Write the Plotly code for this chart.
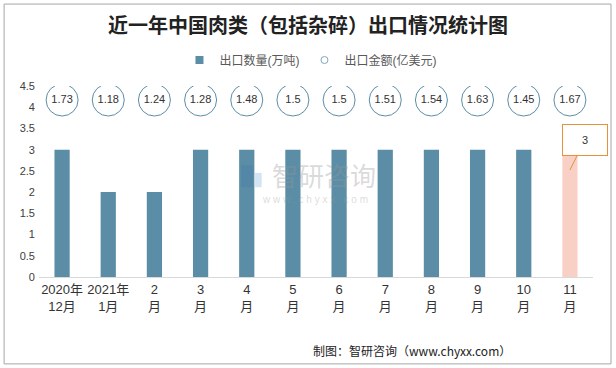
import plotly.graph_objects as go

categories = ["2020年12月", "2021年1月", "2月", "3月", "4月", "5月", "6月", "7月", "8月", "9月", "10月", "11月"]
tick_labels = ["2020年<br>12月", "2021年<br>1月", "2<br>月", "3<br>月", "4<br>月", "5<br>月",
               "6<br>月", "7<br>月", "8<br>月", "9<br>月", "10<br>月", "11<br>月"]
export_volume = [3, 2, 2, 3, 3, 3, 3, 3, 3, 3, 3, 3]          # 万吨
export_value = [1.73, 1.18, 1.24, 1.28, 1.48, 1.5, 1.5, 1.51, 1.54, 1.63, 1.45, 1.67]  # 亿美元
label_row = 4.17  # height of the circled value labels

BAR = "#5B8EA6"
PINK = "#F8D0C6"
FONT = "Liberation Sans, Noto Sans CJK SC, sans-serif"

bar_colors = [BAR] * (len(categories) - 1) + [PINK]

fig = go.Figure()
fig.add_trace(go.Bar(
    x=categories, y=export_volume, name="出口数量(万吨)",
    marker=dict(color=bar_colors, line=dict(width=0)),
    width=0.33, showlegend=False,
))
fig.add_trace(go.Scatter(
    x=categories, y=[label_row] * len(categories), name="出口金额(亿美元)",
    mode="markers+text", text=[str(v) for v in export_value],
    textposition="middle center",
    textfont=dict(size=11, color="#333333", family=FONT),
    marker=dict(symbol="circle", size=32, color="white",
                line=dict(color="#5B8EA6", width=1)),
    showlegend=False,
))
# legend entries
fig.add_trace(go.Scatter(x=[None], y=[None], mode="markers", name="出口数量(万吨)",
                         marker=dict(symbol="square", size=8, color=BAR)))
fig.add_trace(go.Scatter(x=[None], y=[None], mode="markers", name="出口金额(亿美元)",
                         marker=dict(symbol="circle", size=7, color="white",
                                     line=dict(color="#7FA7BC", width=1))))

fig.add_annotation(
    x=categories[-1], y=2.52, xref="x", yref="y",
    text="3", showarrow=True, arrowhead=0, arrowwidth=1, arrowcolor="#E8903A",
    ax=15, ay=-30, width=42, height=28,
    bordercolor="#E8903A", borderwidth=1, bgcolor="white",
    font=dict(size=11, color="#333333", family=FONT),
)

# watermark
fig.add_annotation(x=0.514, y=0.539, xref="paper", yref="paper", text="智研咨询",
                   showarrow=False, font=dict(size=26, color="rgba(150,150,150,0.35)",
                                             family="Noto Sans CJK SC"))
fig.add_annotation(x=0.498, y=0.408, xref="paper", yref="paper",
                   text="w w w . c h y x x . c o m",
                   showarrow=False, font=dict(size=10, color="rgba(150,150,150,0.35)",
                                             family=FONT))
fig.add_shape(type="rect", xref="paper", yref="paper", x0=0.365, x1=0.386, y0=0.47, y1=0.585,
              fillcolor="rgba(70,120,170,0.30)", line=dict(width=0))
fig.add_shape(type="rect", xref="paper", yref="paper", x0=0.39, x1=0.402, y0=0.47, y1=0.545,
              fillcolor="rgba(110,170,220,0.30)", line=dict(width=0))

# footer
fig.add_annotation(x=0.855, y=-0.385, xref="paper", yref="paper", xanchor="right",
                   yanchor="middle", text="制图：智研咨询（www.chyxx.com）",
                   showarrow=False, font=dict(size=12, color="#222222",
                                              family="Noto Sans CJK SC"))

# outer border
fig.add_shape(type="rect", xref="paper", yref="paper",
              x0=-0.063, x1=1.0325, y0=-0.455, y1=1.429,
              line=dict(color="#A6A6A6", width=1))

fig.update_layout(
    width=616, height=368,
    margin=dict(l=39, r=23, t=86, b=91),
    paper_bgcolor="white", plot_bgcolor="white",
    title=dict(text="<b>近一年中国肉类（包括杂碎）出口情况统计图</b>",
               x=0.5, xanchor="center", y=1 - 26 / 368, yanchor="middle",
               font=dict(size=20, color="#222222", family="Noto Sans CJK SC")),
    legend=dict(orientation="h", x=0.49, xanchor="center", y=1.136, yanchor="middle",
                font=dict(size=12, color="#595959", family=FONT),
                bgcolor="rgba(0,0,0,0)"),
    xaxis=dict(type="category", tickvals=categories, ticktext=tick_labels,
               range=[-0.5, len(categories) - 0.5],
               showline=True, linecolor="#D9D9D9", linewidth=1, ticks="",
               tickangle=0, automargin=False,
               tickfont=dict(size=13, color="#333333", family=FONT),
               showgrid=False, fixedrange=True),
    yaxis=dict(range=[0, 4.5], dtick=0.5, showgrid=False, zeroline=False,
               showline=False, automargin=False,
               tickfont=dict(size=11, color="#404040", family=FONT),
               ticksuffix=" ", fixedrange=True),
    bargap=0.67,
)

fig.write_html("out.html", config={"displayModeBar": False},
               post_script="document.body.style.margin='0px';")
